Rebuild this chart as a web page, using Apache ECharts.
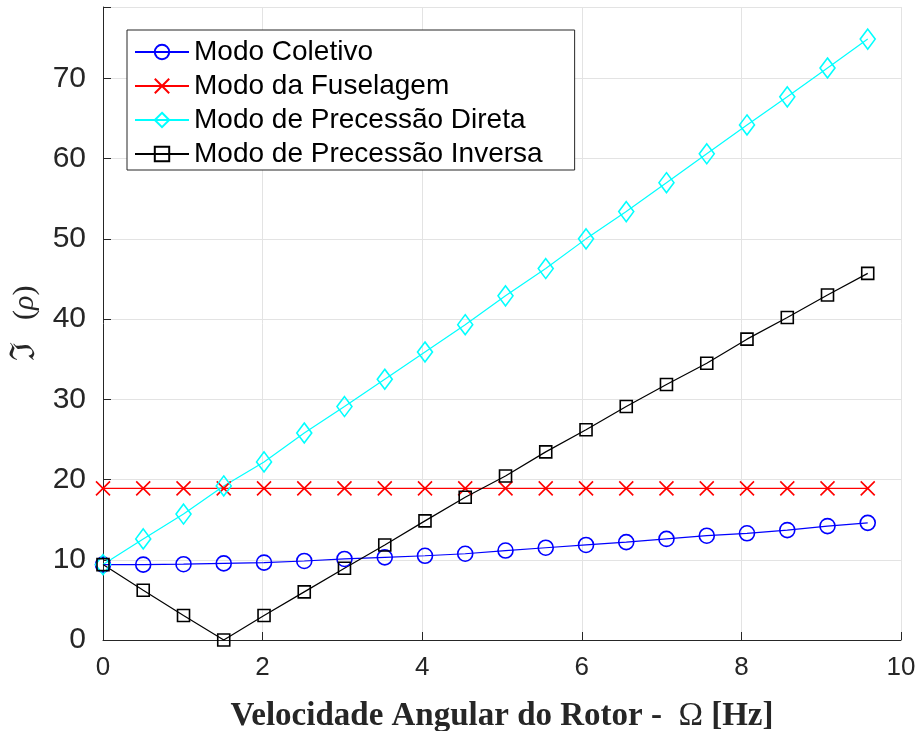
<!DOCTYPE html>
<html>
<head>
<meta charset="utf-8">
<script src="https://cdn.jsdelivr.net/npm/echarts@6/dist/echarts.min.js"></script>
<style>
  html, body { margin: 0; padding: 0; background: #fff; }
  #chart { width: 917px; height: 731px; }
</style>
</head>
<body>
<div id="chart"></div>
<script>
// Rotor angular speed samples [Hz]
const omega = [0, 0.504, 1.009, 1.513, 2.018, 2.522, 3.026, 3.531, 4.035, 4.539,
               5.044, 5.548, 6.053, 6.557, 7.061, 7.566, 8.070, 8.575, 9.079, 9.583];

// Imaginary part of the eigenvalues for each mode
const modoColetivo = [9.4, 9.4, 9.45, 9.55, 9.65, 9.85, 10.1, 10.3, 10.5, 10.75,
                      11.15, 11.5, 11.85, 12.2, 12.6, 13.0, 13.3, 13.7, 14.2, 14.6];
const modoFuselagem = [18.9, 18.9, 18.9, 18.9, 18.9, 18.9, 18.9, 18.9, 18.9, 18.9,
                       18.9, 18.9, 18.9, 18.9, 18.9, 18.9, 18.9, 18.9, 18.9, 18.9];
const modoDireta = [9.4, 12.6, 15.7, 19.2, 22.2, 25.8, 29.1, 32.5, 35.9, 39.3,
                    42.9, 46.3, 50.0, 53.4, 57.0, 60.6, 64.2, 67.7, 71.3, 74.9];
const modoInversa = [9.4, 6.2, 3.05, 0.0, 3.05, 6.0, 8.95, 11.85, 14.85, 17.8,
                     20.45, 23.45, 26.2, 29.1, 31.85, 34.5, 37.5, 40.2, 43.0, 45.7];

const seriesNames = ['Modo Coletivo', 'Modo da Fuselagem',
                     'Modo de Precessão Direta', 'Modo de Precessão Inversa'];

const xTicks = { min: 0, max: 10, step: 2 };
const yTicks = { min: 0, max: 78.9, step: 10 };

const pair = (ys) => omega.map((x, i) => [x, ys[i]]);

const axisDark = '#262626';
const gridGray = '#e3e3e3';
const sansFont = '"Liberation Sans", Arial, Helvetica, sans-serif';
const serifFont = '"Liberation Serif", "Times New Roman", serif';
const mathFont = '"DejaVu Serif", "Liberation Serif", serif';

function lineSeries(name, ys, color, symbol, size) {
  return {
    name: name,
    type: 'line',
    data: pair(ys),
    symbol: symbol,
    symbolSize: size,
    showAllSymbol: true,
    clip: false,
    lineStyle: { color: color, width: 1.2 },
    itemStyle: { color: 'rgba(0,0,0,0)', borderColor: color, borderWidth: 1.6 },
    emphasis: { disabled: true },
    animation: false
  };
}

const chart = echarts.init(document.getElementById('chart'), null, { renderer: 'canvas' });

chart.setOption({
  backgroundColor: '#ffffff',
  animation: false,
  grid: { left: 103, right: 16, top: 7, bottom: 91, containLabel: false, outerBoundsMode: 'none' },
  legend: {
    orient: 'vertical',
    left: 127,
    top: 30,
    data: seriesNames,
    itemWidth: 54,
    itemHeight: 18,
    itemGap: 4,
    padding: [7, 32, 1, 7],
    backgroundColor: '#ffffff',
    borderColor: axisDark,
    borderWidth: 1,
    borderRadius: 0,
    textStyle: { fontFamily: sansFont, fontSize: 28, color: '#000', lineHeight: 30, padding: [0, 0, 0, 0] }
  },
  xAxis: {
    type: 'value',
    min: xTicks.min,
    max: xTicks.max,
    interval: xTicks.step,
    name: '{b|Velocidade Angular do Rotor -  }{o|Ω}{b| [Hz]}',
    nameLocation: 'middle',
    nameGap: 60,
    nameTextStyle: {
      rich: {
        b: { fontFamily: serifFont, fontWeight: 'bold', fontSize: 33, color: axisDark },
        o: { fontFamily: serifFont, fontSize: 33, color: axisDark }
      }
    },
    axisLine: { show: true, lineStyle: { color: axisDark, width: 1 } },
    axisTick: { show: true, inside: true, length: 8, lineStyle: { color: axisDark } },
    axisLabel: { fontFamily: sansFont, fontSize: 26, color: axisDark, margin: 15 },
    splitLine: { show: true, lineStyle: { color: gridGray, width: 1 } }
  },
  yAxis: {
    type: 'value',
    min: yTicks.min,
    max: yTicks.max,
    interval: yTicks.step,
    name: '{f|ℑ}{s|   (}{r|ρ}{s|)}',
    nameLocation: 'middle',
    nameRotate: 90,
    nameGap: 60,
    nameTextStyle: {
      rich: {
        f: { fontFamily: mathFont, fontSize: 34, color: axisDark },
        s: { fontFamily: serifFont, fontSize: 30, color: axisDark },
        r: { fontFamily: serifFont, fontStyle: 'italic', fontSize: 30, color: axisDark }
      }
    },
    axisLine: { show: true, lineStyle: { color: axisDark, width: 1 } },
    axisTick: { show: true, inside: true, length: 8, lineStyle: { color: axisDark } },
    axisLabel: {
      fontFamily: sansFont, fontSize: 30, color: axisDark, margin: 17,
      formatter: (v) => (Math.abs(v % 10) < 1e-9 ? String(v) : '')
    },
    splitLine: { show: true, lineStyle: { color: gridGray, width: 1 } }
  },
  series: [
    lineSeries(seriesNames[0], modoColetivo, '#0000ff', 'circle', 15),
    lineSeries(seriesNames[1], modoFuselagem, '#ff0000', 'path://M0,0L10,10M10,0L0,10', 14),
    lineSeries(seriesNames[2], modoDireta, '#00ffff', 'diamond', [15, 20]),
    lineSeries(seriesNames[3], modoInversa, '#000000', 'rect', 12)
  ]
});
</script>
</body>
</html>
